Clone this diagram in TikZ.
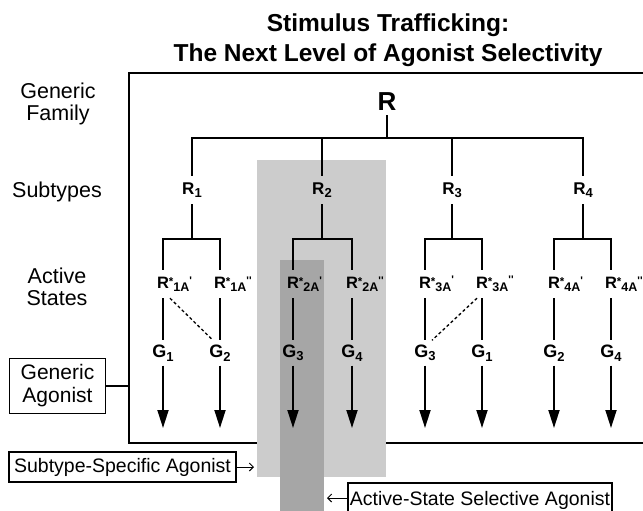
\documentclass[tikz,border=0pt]{standalone}
\usepackage{fontspec}
\setmainfont{Liberation Sans}
\usetikzlibrary{arrows.meta}
\newcommand\sbs[1]{\raisebox{-3.5pt}{\fontsize{13}{13}\selectfont #1}}
\newcommand\rstar[2]{R\rlap{\raisebox{3pt}{\fontsize{11.5}{12}\selectfont *}\raisebox{-3pt}{\fontsize{12.5}{13}\selectfont #1}\raisebox{4.5pt}{\fontsize{11}{11}\selectfont #2}}}
\newcommand\pr{\textquotesingle}
\begin{document}
\begin{tikzpicture}[x=1pt,y=-1pt,
  lab/.style={font=\fontsize{21.5}{22.5}\selectfont, align=center},
  title/.style={font=\bfseries\fontsize{24.5}{28}\selectfont, anchor=base},
  sbox/.style={draw, line width=1.2pt, font=\fontsize{19.5}{23}\selectfont, inner sep=2pt, align=center},
  rn/.style={font=\bfseries\fontsize{17}{18}\selectfont, minimum height=28pt, inner sep=0pt},
  an/.style={font=\bfseries\fontsize{16.5}{18}\selectfont, minimum height=28pt, inner sep=0pt},
  gn/.style={font=\bfseries\fontsize{18}{19}\selectfont, minimum height=25pt, inner sep=0pt},
  tl/.style={line width=1.8pt},
  frame/.style={line width=2.6pt},
  arr/.style={line width=1.8pt, -{Triangle[length=18pt,width=11pt]}},
  thinarr/.style={line width=1pt, -{Straight Barb[length=4pt,width=8pt]}},
  dline/.style={line width=1.3pt, dash pattern=on 3pt off 2.5pt},
]
\useasboundingbox (0,0) rectangle (643,511);
\clip (0,0) rectangle (643,511);

% title
\node[title] (t1) at (388,32) {Stimulus Trafficking:};
\node[title] (t2) at (388,62) {The Next Level of Agonist Selectivity};

% frame
\coordinate (ftr) at (655,73);
\coordinate (fbl) at (129,443);
\draw[frame] (ftr) -| (fbl) -- (fbl -| ftr);

% grey bands
\fill[black!20] (257,160) rectangle (386,477);
\fill[black!35] (280,260) rectangle (324,520);

% left labels
\node[lab] (lf) at (58,104) {Generic\\Family};
\node[lab] (ls) at (57,192) {Subtypes};
\node[lab] (la) at (57,287) {Active\\States};

% tree
\node[font=\bfseries\fontsize{26}{28}\selectfont, inner sep=4pt] (R) at (387,102) {R};
\coordinate (bar) at (387,138);

\node[rn] (R1) at (192,190) {R\sbs{1}};
\node[rn] (R2) at (322,190) {R\sbs{2}};
\node[rn] (R3) at (452,190) {R\sbs{3}};
\node[rn] (R4) at (583,190) {R\sbs{4}};

\draw[tl] (R) -- (bar);
\draw[tl] (R1) -- (R1 |- bar) -- (R4 |- bar) -- (R4);
\draw[tl] (R2) -- (R2 |- bar);
\draw[tl] (R3) -- (R3 |- bar);

\coordinate (sb) at (0,239);

\node[an] (A1) at (163,284) {\rstar{1A}{\pr}};
\node[an] (B1) at (220,284) {\rstar{1A}{\pr\pr}};
\node[an] (A2) at (293,284) {\rstar{2A}{\pr}};
\node[an] (B2) at (352,284) {\rstar{2A}{\pr\pr}};
\node[an] (A3) at (425,284) {\rstar{3A}{\pr}};
\node[an] (B3) at (482,284) {\rstar{3A}{\pr\pr}};
\node[an] (A4) at (554,284) {\rstar{4A}{\pr}};
\node[an] (B4) at (611,284) {\rstar{4A}{\pr\pr}};

\foreach \i in {1,2,3,4}{
  \draw[tl] (R\i) -- (R\i |- sb);
  \draw[tl] (A\i) -- (A\i |- sb) -- (B\i |- sb) -- (B\i);
}

\node[gn] (GA1) at (163,353) {G\sbs{1}};
\node[gn] (GB1) at (220,353) {G\sbs{2}};
\node[gn] (GA2) at (293,353) {G\sbs{3}};
\node[gn] (GB2) at (352,353) {G\sbs{4}};
\node[gn] (GA3) at (425,353) {G\sbs{3}};
\node[gn] (GB3) at (482,353) {G\sbs{1}};
\node[gn] (GA4) at (554,353) {G\sbs{2}};
\node[gn] (GB4) at (611,353) {G\sbs{4}};

\coordinate (tipy) at (0,428);
\foreach \i in {1,2,3,4}{
  \draw[tl] (A\i) -- (GA\i);
  \draw[tl] (B\i) -- (GB\i);
  \draw[arr] (GA\i) -- (GA\i |- tipy);
  \draw[arr] (GB\i) -- (GB\i |- tipy);
}

% dashed cross links
\draw[dline] ([xshift=7pt]A1.south) -- ([xshift=-7pt]GB1.north);
\draw[dline] ([xshift=-5pt]B3.south) -- ([xshift=7pt]GA3.north);

% agonist boxes
\node[sbox, minimum width=96pt, minimum height=55pt, font=\fontsize{21}{23}\selectfont] (gen) at (57.5,386) {Generic\\Agonist};
\draw[line width=2pt] (gen.east) -- (gen.east -| fbl);

\node[sbox, minimum width=227pt, minimum height=30pt] (sub) at (122.5,467) {Subtype-Specific Agonist};
\coordinate (subend) at (254,467);
\draw[thinarr] (sub.east) -- (subend);

\node[sbox, minimum width=264pt, minimum height=34pt] (act) at (480,500) {Active-State Selective Agonist};
\coordinate (actend) at (327,498);
\draw[thinarr] (act.west |- actend) -- (actend);
\end{tikzpicture}
\end{document}
